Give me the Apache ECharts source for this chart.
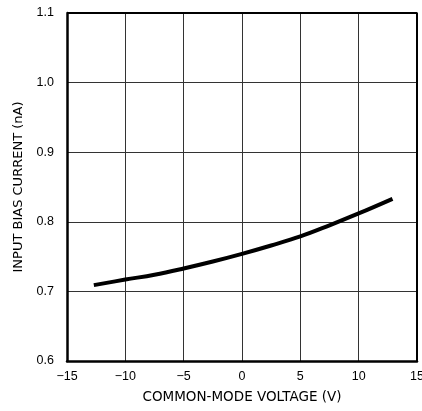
<!DOCTYPE html>
<html><head><meta charset="utf-8">
<script src="https://cdn.jsdelivr.net/npm/echarts@6/dist/echarts.min.js"></script>
<style>html,body{margin:0;padding:0;background:#fff}#c{width:422px;height:411px}</style>
</head><body><div id="c"></div>
<script>
var xValues = [-12.7, -10, -7.5, -5, -2.5, 0, 2.5, 5, 7.5, 10, 12.9];
var yValues = [0.709, 0.717, 0.724, 0.733, 0.743, 0.754, 0.766, 0.779, 0.795, 0.812, 0.833];
var xTicks = [-15, -10, -5, 0, 5, 10, 15];
var yTicks = [0.6, 0.7, 0.8, 0.9, 1.0, 1.1];

var chart = echarts.init(document.getElementById('c'));
var font = 'Liberation Sans, Arial, sans-serif';
var nameFont = 'DejaVu Sans, sans-serif';
chart.setOption({
  animation: false,
  grid: {left: 67, right: 5, top: 13, bottom: 50, containLabel: false, outerBoundsMode: 'none'},
  xAxis: {
    type: 'value', min: -15, max: 15, interval: 5,
    name: 'COMMON-MODE VOLTAGE (V)', nameLocation: 'middle', nameGap: 29,
    nameTextStyle: {fontFamily: nameFont, fontSize: 13.5, color: '#000'},
    axisLine: {show: true, onZero: false, lineStyle: {color: '#000', width: 2.5}},
    axisTick: {show: false},
    axisLabel: {fontFamily: font, fontSize: 12.5, color: '#000', margin: 9,
      formatter: function(v){ return xTicks.indexOf(v) >= 0 ? (v < 0 ? '\u2212' + (-v) : String(v)) : ''; }},
    splitLine: {show: true, lineStyle: {color: '#333', width: 1}}
  },
  yAxis: {
    type: 'value', min: 0.6, max: 1.1, interval: 0.1,
    name: 'INPUT BIAS CURRENT (nA)', nameLocation: 'middle', nameGap: 42,
    nameTextStyle: {fontFamily: nameFont, fontSize: 13, color: '#000'},
    axisLine: {show: true, onZero: false, lineStyle: {color: '#000', width: 2.5}},
    axisTick: {show: false},
    axisLabel: {fontFamily: font, fontSize: 12.5, color: '#000', margin: 13,
      formatter: function(v){ return v.toFixed(1); }},
    splitLine: {show: true, lineStyle: {color: '#333', width: 1}}
  },
  series: [{
    type: 'line', smooth: 0.4, symbol: 'none',
    lineStyle: {color: '#000', width: 4},
    data: xValues.map(function(x, i){ return [x, yValues[i]]; })
  }, {
    type: 'line', symbol: 'none', silent: true,
    lineStyle: {color: '#000', width: 2},
    data: [[-15, 1.1], [15, 1.1], [15, 0.6]]
  }]
});
</script></body></html>
